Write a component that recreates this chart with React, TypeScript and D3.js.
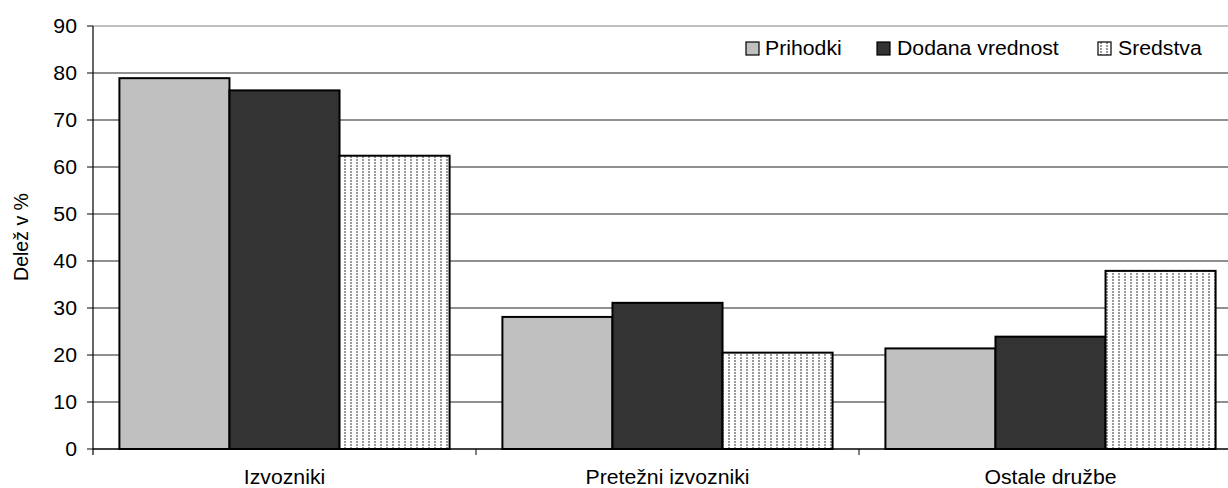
import React from "react";
import * as d3 from "d3";

const categories = ["Izvozniki", "Pretežni izvozniki", "Ostale družbe"];
const seriesNames = ["Prihodki", "Dodana vrednost", "Sredstva"];
const prihodki = [78.9, 28.1, 21.4];
const dodanaVrednost = [76.3, 31.1, 23.9];
const sredstva = [62.4, 20.5, 37.9];
const yTicks = [0, 10, 20, 30, 40, 50, 60, 70, 80, 90];

const W = 1228;
const H = 488;
const left = 93;
const right = 1242;
const top = 26;
const bottom = 449;
const font = "'Liberation Sans', Arial, sans-serif";
const fs = 19.5;
const sx = 1.09;

const fills = ["#c0c0c0", "#333333", "url(#dots)"];
const legendPos = [
  { sq: 746, tx: 765 },
  { sq: 877, tx: 897 },
  { sq: 1098, tx: 1118 },
];

export default function App() {
  const values = [prihodki, dodanaVrednost, sredstva];
  const x0 = d3.scaleBand<string>().domain(categories).range([left, right]).paddingInner(0).paddingOuter(0);
  const x1 = d3.scaleBand<string>().domain(seriesNames).range([0, x0.bandwidth()]).paddingInner(0).paddingOuter(0.24);
  const y = d3.scaleLinear().domain([0, 90]).range([bottom, top]);

  return (
    <svg width={W} height={H} style={{ position: "absolute", left: 0, top: 0, background: "#fff" }}>
      <defs>
        <pattern id="dots" width={6} height={3} patternUnits="userSpaceOnUse">
          <rect width={6} height={3} fill="#ffffff" />
          <rect x={2} y={0} width={2} height={2} fill="#999999" />
        </pattern>
      </defs>
      {yTicks.map((t) => (
        <g key={t}>
          {t > 0 && (
            <line x1={left} x2={W} y1={y(t)} y2={y(t)} stroke={t === 90 ? "#808080" : "#222"} strokeWidth={1.2} />
          )}
          <line x1={left - 6} x2={left} y1={y(t)} y2={y(t)} stroke="#000" strokeWidth={1} />
          <text
            transform={`translate(77,${y(t) + 7}) scale(${sx},1)`}
            textAnchor="end"
            fontFamily={font}
            fontSize={fs}
            fill="#000"
          >
            {t}
          </text>
        </g>
      ))}
      <line x1={left} x2={left} y1={top} y2={bottom + 6} stroke="#000" strokeWidth={1.2} />
      {categories.map((c, i) => (
        <g key={c}>
          {seriesNames.map((s, j) => (
            <rect
              key={s}
              x={(x0(c) as number) + (x1(s) as number)}
              y={y(values[j][i])}
              width={x1.bandwidth()}
              height={y(0) - y(values[j][i])}
              fill={fills[j]}
              stroke="#000"
              strokeWidth={2}
            />
          ))}
          <text
            transform={`translate(${(x0(c) as number) + x0.bandwidth() / 2},484) scale(${sx},1)`}
            textAnchor="middle"
            fontFamily={font}
            fontSize={fs}
            fill="#000"
          >
            {c}
          </text>
        </g>
      ))}
      <line x1={left} x2={W} y1={bottom} y2={bottom} stroke="#000" strokeWidth={1.5} />
      {categories.slice(1).map((c) => (
        <line key={c} x1={x0(c) as number} x2={x0(c) as number} y1={bottom} y2={bottom + 6} stroke="#000" strokeWidth={1} />
      ))}
      <text
        transform={`translate(28,237) rotate(-90)`}
        textAnchor="middle"
        fontFamily={font}
        fontSize={fs}
        fill="#000"
      >
        Delež v %
      </text>
      {seriesNames.map((name, j) => (
        <g key={name}>
          <rect x={legendPos[j].sq} y={42} width={13} height={13} fill={fills[j]} stroke="#000" strokeWidth={1.2} />
          <text
            transform={`translate(${legendPos[j].tx},55) scale(${sx},1)`}
            fontFamily={font}
            fontSize={fs}
            fill="#000"
          >
            {name}
          </text>
        </g>
      ))}
    </svg>
  );
}
